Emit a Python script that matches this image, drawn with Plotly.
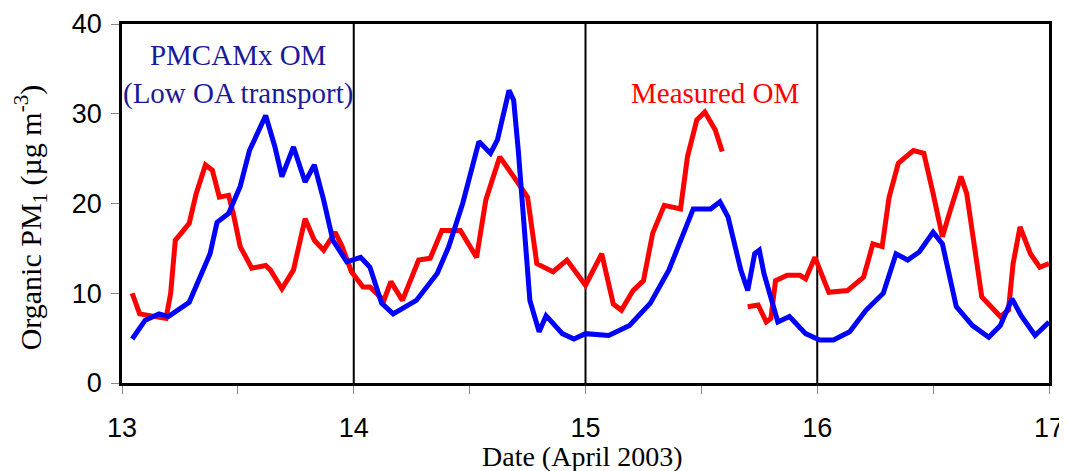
import plotly.graph_objects as go

# Measured OM (red); None marks the data gap
measured_x = [13.044, 13.076, 13.19, 13.21, 13.23, 13.29, 13.32, 13.36, 13.39, 13.42, 13.46,
              13.48, 13.51, 13.56, 13.62, 13.64, 13.69, 13.74, 13.79, 13.83, 13.87, 13.92,
              13.95, 13.99, 14.04, 14.07, 14.13, 14.16, 14.21, 14.28, 14.33, 14.38, 14.46,
              14.53, 14.57, 14.63, 14.69, 14.75, 14.79, 14.86, 14.92, 15.00, 15.07, 15.12,
              15.155, 15.205, 15.25, 15.29, 15.34, 15.41, 15.44, 15.48, 15.515, 15.56, 15.59,
              15.645,
              15.70, 15.745, 15.78, 15.80, 15.82, 15.87, 15.925, 15.95, 15.99, 16.05, 16.13,
              16.20, 16.24, 16.28, 16.31, 16.35, 16.415, 16.46, 16.50, 16.54, 16.57, 16.62,
              16.645, 16.67, 16.71, 16.79, 16.825, 16.845, 16.875, 16.92, 16.96, 17.0]
measured_y = [10.0, 7.7, 7.2, 10.0, 15.9, 17.8, 21.1, 24.3, 23.7, 20.7, 20.9,
              18.9, 15.2, 12.8, 13.1, 12.6, 10.5, 12.6, 18.3, 15.9, 14.8, 16.8,
              15.2, 12.4, 10.7, 10.7, 9.2, 11.3, 9.2, 13.7, 13.9, 17.0, 17.0,
              14.0, 20.4, 25.2, 23.0, 20.7, 13.3, 12.4, 13.7, 10.9, 14.4, 8.8,
              8.1, 10.3, 11.4, 16.7, 19.8, 19.4, 25.2, 29.3, 30.2, 28.2, 25.8,
              None,
              8.5, 8.7, 6.8, 7.2, 11.4, 12.0, 12.0, 11.6, 14.0, 10.1, 10.3,
              11.8, 15.5, 15.2, 20.7, 24.5, 25.9, 25.6, 21.1, 16.3, 18.9, 23.0,
              21.1, 16.7, 9.6, 7.4, 8.1, 13.3, 17.4, 14.4, 12.9, 13.3]

# PMCAMx OM, low OA transport (blue)
model_x = [13.044, 13.10, 13.16, 13.20, 13.29, 13.33, 13.38, 13.41, 13.46, 13.51, 13.55,
           13.62, 13.66, 13.69, 13.74, 13.79, 13.83, 13.87, 13.91, 13.97, 14.03, 14.07,
           14.12, 14.17, 14.27, 14.36, 14.41, 14.47, 14.54, 14.59, 14.62, 14.67, 14.69,
           14.71, 14.73, 14.76, 14.80, 14.83, 14.90, 14.95, 15.00, 15.10, 15.19, 15.28,
           15.36, 15.465, 15.54, 15.58, 15.615, 15.67, 15.70, 15.73, 15.75, 15.77, 15.83,
           15.88, 15.95, 16.01, 16.07, 16.14, 16.21, 16.285, 16.34, 16.39, 16.44, 16.50,
           16.54, 16.60, 16.67, 16.74, 16.79, 16.84, 16.88, 16.94, 17.0]
model_y = [4.9, 7.0, 7.7, 7.4, 9.0, 11.4, 14.4, 17.9, 18.9, 21.9, 25.9,
           29.8, 26.3, 23.0, 26.3, 22.4, 24.3, 20.4, 15.9, 13.5, 14.0, 12.9,
           8.9, 7.7, 9.2, 12.2, 15.2, 20.0, 26.9, 25.6, 27.1, 32.6, 31.5,
           25.9, 18.5, 9.2, 5.7, 7.5, 5.5, 4.9, 5.5, 5.3, 6.4, 8.9,
           12.6, 19.4, 19.4, 20.2, 18.5, 12.6, 10.3, 14.4, 14.8, 12.2, 6.8,
           7.4, 5.5, 4.8, 4.8, 5.7, 8.1, 10.0, 14.4, 13.7, 14.6, 16.8,
           15.5, 8.5, 6.4, 5.1, 6.4, 9.4, 7.5, 5.3, 6.8]

day_lines = [14, 15, 16]
x_ticks = [13, 14, 15, 16, 17]
y_ticks = [0, 10, 20, 30, 40]

serif = "Liberation Serif, Times New Roman, serif"
sans = "Liberation Sans, Arial, sans-serif"

fig = go.Figure()

fig.add_trace(go.Scatter(
    x=measured_x, y=measured_y, mode='lines', connectgaps=False,
    line=dict(color='#ff0000', width=5), name='Measured OM', showlegend=False
))
fig.add_trace(go.Scatter(
    x=model_x, y=model_y, mode='lines',
    line=dict(color='#0000ff', width=5), name='PMCAMx OM', showlegend=False
))

# Day separators
for d in day_lines:
    fig.add_shape(type='line', xref='x', yref='y', x0=d, x1=d, y0=0, y1=40,
                  line=dict(color='black', width=2), layer='below')

fig.add_annotation(x=13.5, y=34.4, xref='x', yref='y', showarrow=False,
                   text="PMCAMx OM<br>(Low OA transport)",
                   font=dict(family=serif, size=29, color='#1a1a99'))
fig.add_annotation(x=15.56, y=32.3, xref='x', yref='y', showarrow=False,
                   text="Measured OM",
                   font=dict(family=serif, size=29, color='#ff0000'))

# Axis titles
fig.add_annotation(x=0.497, y=-0.204, xref='paper', yref='paper', showarrow=False,
                   xanchor='center', yanchor='middle',
                   text="Date (April 2003)",
                   font=dict(family=serif, size=28, color='black'))
fig.add_annotation(x=-0.099, y=0.462, xref='paper', yref='paper', showarrow=False,
                   xanchor='center', yanchor='middle', textangle=-90,
                   text="Organic PM<sub>1</sub> (µg m<sup>-3</sup>)",
                   font=dict(family=serif, size=30, color='black'))

# the page adds an 8px body margin, so the plot area is shifted to compensate;
# the figure runs a little past the window on the right and bottom
fig.update_layout(
    width=1067, height=471,
    margin=dict(l=114, r=26, t=16, b=96),
    plot_bgcolor='white', paper_bgcolor='white',
    xaxis=dict(
        range=[13, 17], tickvals=x_ticks, showgrid=False, zeroline=False,
        showline=True, linecolor='black', linewidth=2.5, mirror=True,
        ticks='outside', ticklen=8, tickcolor='#888888', tickwidth=1,
        minor=dict(dtick=0.5, ticks='outside', ticklen=8, tickcolor='#888888', showgrid=False),
        ticklabelstandoff=11, automargin=False,
        tickfont=dict(family=sans, size=27, color='black'),
    ),
    yaxis=dict(
        range=[0, 40], tickvals=y_ticks, showgrid=False, zeroline=False,
        showline=True, linecolor='black', linewidth=2.5, mirror=True,
        ticks='outside', ticklen=8, tickcolor='#888888', tickwidth=1,
        ticklabelstandoff=4, automargin=False,
        tickfont=dict(family=sans, size=27, color='black'),
    ),
)

fig.write_html("out.html")
